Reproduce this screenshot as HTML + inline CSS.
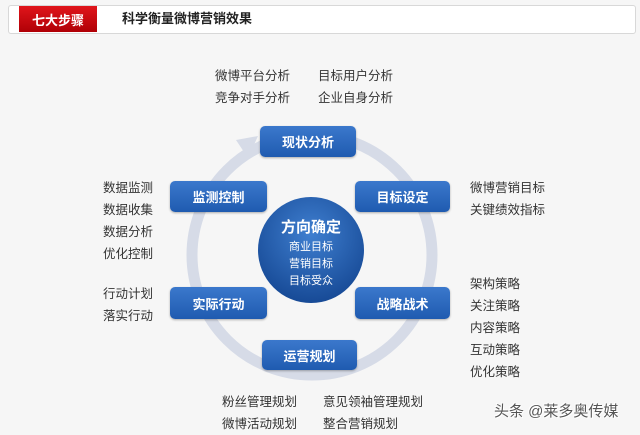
<!DOCTYPE html>
<html><head><meta charset="utf-8"><style>
body{margin:0;width:640px;height:430px;background:#f6f6f6;position:relative;overflow:hidden;font-family:"Liberation Sans","Noto Sans CJK SC",sans-serif}
.t{position:absolute;font-size:12.5px;color:#333;line-height:22px;white-space:nowrap}
.b{position:absolute;background:linear-gradient(#3b78cc,#1f5bb0);border-radius:5px;color:#fff;font-size:13px;font-weight:bold;display:flex;align-items:center;justify-content:center;box-shadow:0 1px 2px rgba(0,0,0,.3)}
</style></head><body>
<div style="position:absolute;left:8px;top:5px;width:626px;height:27px;background:#fff;border:1px solid #d8d8d8;border-radius:3px"></div>
<div style="position:absolute;left:19px;top:6px;width:78px;height:26px;background:linear-gradient(#e0151b,#b00006);color:#fff;font-size:13px;font-weight:bold;display:flex;align-items:center;justify-content:center">七大步骤</div>
<div style="position:absolute;left:122px;top:8px;font-size:13px;font-weight:bold;color:#222;line-height:22px">科学衡量微博营销效果</div>
<svg style="position:absolute;left:0;top:0" width="640" height="430">
<circle cx="312" cy="255" r="120" fill="none" stroke="#d6dbe7" stroke-width="11"/>
<polygon points="258,136 236,140 248,158" fill="#d6dbe7"/>
<defs><radialGradient id="g" cx="50%" cy="35%" r="65%"><stop offset="0" stop-color="#3f7fd0"/><stop offset="1" stop-color="#174a96"/></radialGradient></defs>
<circle cx="311" cy="250" r="53" fill="url(#g)"/>
</svg>
<div style="position:absolute;left:258px;top:217px;width:106px;text-align:center;color:#fff">
<div style="font-size:15px;font-weight:bold;line-height:22px">方向确定</div>
<div style="font-size:11px;line-height:17px">商业目标<br>营销目标<br>目标受众</div></div>
<div class="b" style="left:260px;top:126px;width:96px;height:31px">现状分析</div>
<div class="b" style="left:355px;top:181px;width:95px;height:31px">目标设定</div>
<div class="b" style="left:355px;top:287px;width:95px;height:32px">战略战术</div>
<div class="b" style="left:262px;top:340px;width:95px;height:30px">运营规划</div>
<div class="b" style="left:170px;top:181px;width:97px;height:31px">监测控制</div>
<div class="b" style="left:170px;top:287px;width:97px;height:32px">实际行动</div>
<div class="t" style="left:215px;top:65px">微博平台分析<br>竞争对手分析</div>
<div class="t" style="left:318px;top:65px">目标用户分析<br>企业自身分析</div>
<div class="t" style="left:103px;top:177px">数据监测<br>数据收集<br>数据分析<br>优化控制</div>
<div class="t" style="left:103px;top:283px">行动计划<br>落实行动</div>
<div class="t" style="left:470px;top:177px">微博营销目标<br>关键绩效指标</div>
<div class="t" style="left:470px;top:273px">架构策略<br>关注策略<br>内容策略<br>互动策略<br>优化策略</div>
<div class="t" style="left:222px;top:391px">粉丝管理规划<br>微博活动规划</div>
<div class="t" style="left:323px;top:391px">意见领袖管理规划<br>整合营销规划</div>
<div style="position:absolute;left:494px;top:400px;font-size:15px;color:#555;text-shadow:1px 1px 0 #fff,-1px -1px 0 #fff">头条 @莱多奥传媒</div>
</body></html>
